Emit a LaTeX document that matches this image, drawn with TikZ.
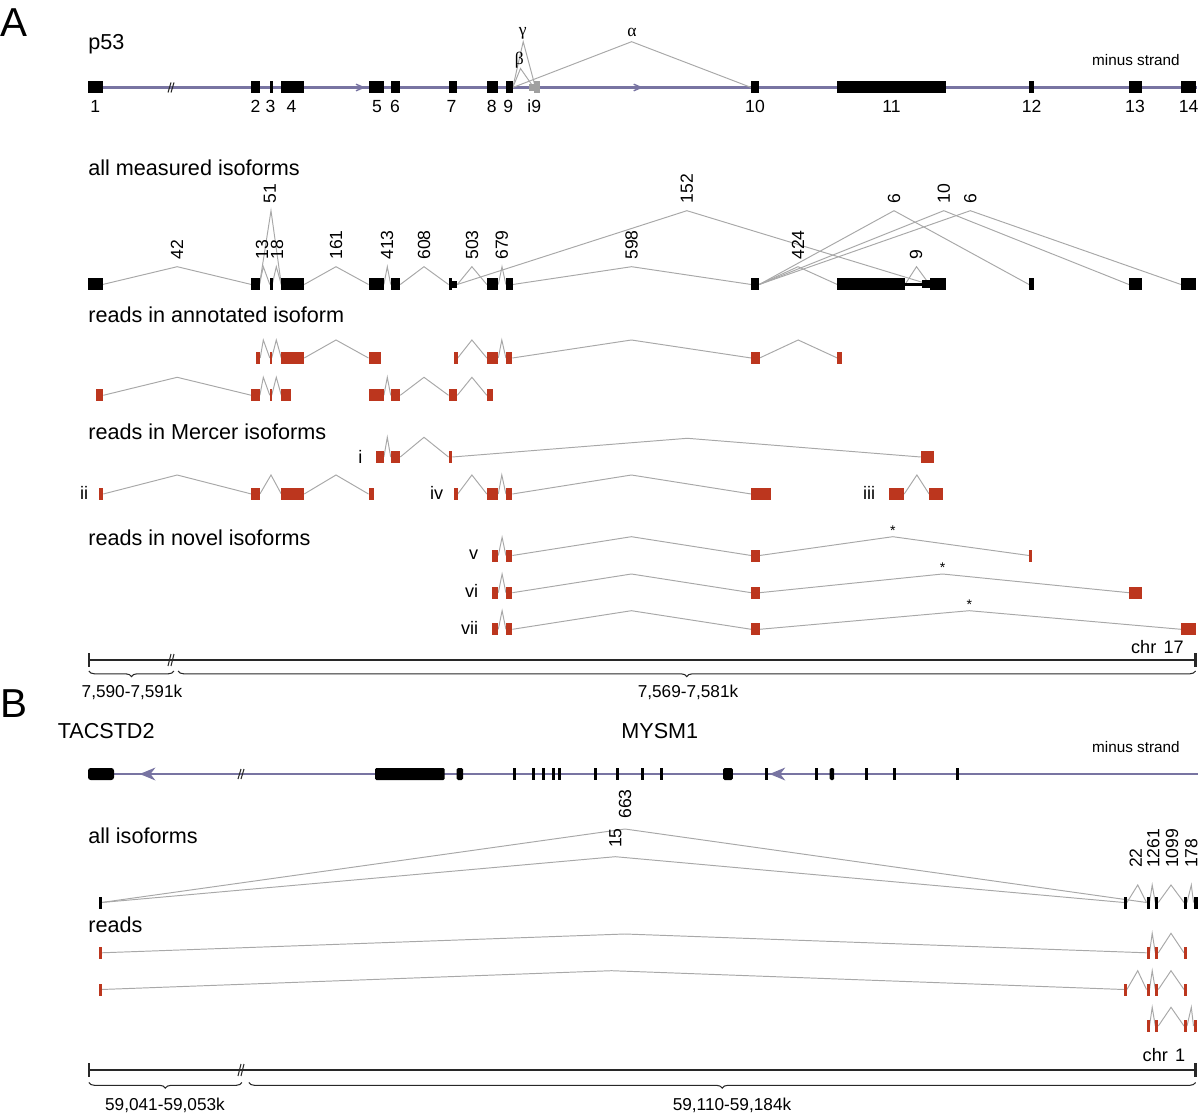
\documentclass[tikz,border=0pt]{standalone}
\usepackage{fontspec}
\setmainfont{Liberation Sans}
\newfontfamily\grk{Liberation Serif}
\usetikzlibrary{decorations.pathreplacing}
\definecolor{rdc}{RGB}{188,54,30}
\definecolor{trkc}{RGB}{120,116,162}
\definecolor{jgray}{RGB}{168,168,168}
\definecolor{i9c}{RGB}{160,160,160}
\definecolor{barc}{RGB}{40,40,40}
\newcommand{\exonbox}[4]{\fill[#1] (#2,{#4-6}) rectangle (#3,{#4+6});}
\newcommand{\exonbar}[3]{\fill[#1] ({#2-1.5},{#3-6}) rectangle ({#2+1.5},{#3+6});}
\newcommand{\junc}[5]{\draw[jl] (#1,#2) -- (#3,#4) -- (#5,#2);}
\newcommand{\dslash}[3]{\draw[brk] ({#1-3},{#2+#3}) -- ({#1},{#2-#3}) ({#1},{#2+#3}) -- ({#1+3},{#2-#3});}
\tikzset{
  jl/.style={draw=jgray, line width=0.55pt, line join=miter},
  trk/.style={draw=trkc, line width=1.3pt},
  brk/.style={draw=barc, line width=0.6pt},
  sbar/.style={draw=barc, line width=1.3pt},
  brc/.style={draw=barc, line width=0.6pt, decorate, decoration={brace, mirror, amplitude=3.2pt}},
  lab/.style={font=\fontsize{12.3}{14}\selectfont, anchor=base west, inner sep=0},
  num/.style={font=\fontsize{10}{12}\selectfont, anchor=base, inner sep=0},
  rl/.style={font=\fontsize{10}{12}\selectfont, rotate=90, anchor=west, inner sep=0},
  smalle/.style={font=\fontsize{8.7}{10}\selectfont, anchor=base east, inner sep=0},
  rom/.style={font=\fontsize{10.3}{12}\selectfont, anchor=base east, inner sep=0},
  grl/.style={font=\grk\fontsize{10}{12}\selectfont, anchor=base, inner sep=0},
  starlab/.style={font=\fontsize{8}{9}\selectfont, anchor=center, inner sep=0},
  panel/.style={font=\fontsize{23}{26}\selectfont, anchor=base west, inner sep=0},
  brlab/.style={font=\fontsize{9.8}{11}\selectfont, anchor=base, inner sep=0}
}
\begin{document}
\begin{tikzpicture}[x=0.02cm,y=-0.02cm]
\useasboundingbox (0,0) rectangle (1200,1114);

% ================= Panel A =================
\node[panel] (pA) at (0.5,37) {A};
\node[lab] (tp53) at (88,49.3) {p53};
\node[smalle] (msA) at (1180,66) {minus strand};

% track
\draw[trk] (88,87.5) -- (1197,87.5);
\draw[draw=trkc, line width=0.8pt] (356,84.2) -- (363.6,87.5) -- (356,90.8);
\draw[draw=trkc, line width=0.8pt] (633.7,84.2) -- (641.3,87.5) -- (633.7,90.8);
\dslash{171}{87.5}{5}

% splice variants alpha beta gamma
\draw[jl] (512.8,87.5) -- (520.5,68.5) -- (532,85);
\draw[jl] (512.8,87.5) -- (523.2,41.7) -- (534.5,84);
\draw[jl] (512.8,87.5) -- (631.6,41.7) -- (751.2,87.5);
\node[grl] (gb) at (519.3,64.5) {β};
\node[grl] (gg) at (522.7,35.5) {γ};
\node[grl] (ga) at (632,36.5) {α};

% exons
\foreach \a/\b in {88/102.6, 251.4/259.5, 281.3/304.2, 368.5/383.9, 390.7/400.3, 448.5/457.3, 486.8/498.3, 505.9/512.8, 751.2/759.2, 837.3/946.3, 1029/1034, 1128.9/1141.9, 1181/1196.3}
  {\exonbox{black}{\a}{\b}{87.5}}
\exonbar{black}{271}{87.5}
\fill[i9c] (529.3,84) rectangle (534,91);
\fill[i9c] (534,81.5) rectangle (539.6,93.5);

\foreach \x/\t in {95.3/1, 255.6/2, 270.5/3, 291.6/4, 376.9/5, 395/6, 451.6/7, 491.8/8, 508.2/9, 534.2/i9, 755/10, 891.6/11, 1031.7/12, 1135/13, 1188.6/14}
  {\node[num] (e\t) at (\x,112.7) {\t};}

% ---------- all measured isoforms ----------
\node[lab] (tall) at (88,176) {all measured isoforms};
\def\ya{284.5}
\foreach \a/\b/\c/\d in {102.6/177.2/266.7/251.4, 259.5/263.3/266.7/269.8, 272.2/276.3/266.7/281.3, 259.5/271/210.7/281.3, 304.2/336/266.7/368.5, 383.9/387.3/266.7/390.7, 400.3/424/266.7/448.5, 457.3/471.9/266.7/486.8, 498.3/502/266.7/505.9, 457.3/686.9/210.7/929.5, 512.8/631.6/266.7/751.2, 759.2/798/266.7/837.3, 905/916.5/266.7/929.5, 759.2/894/210.7/1029, 759.2/943.8/210.7/1128.9, 759.2/970.3/210.7/1181}
  {\junc{\a}{\ya}{\b}{\c}{\d}}
\foreach \a/\b in {88/102.6, 251.4/259.5, 281.3/304.2, 368.5/383.9, 390.7/400.3, 486.8/498.3, 505.9/512.8, 751.2/759.2, 837.3/905, 929.5/946.3, 1029/1034, 1128.9/1141.9, 1181/1196.3}
  {\exonbox{black}{\a}{\b}{\ya}}
\exonbar{black}{271}{\ya}
\fill[black] (448.5,278.5) rectangle (451.7,290.5);
\fill[black] (451.7,281) rectangle (457.3,288);
\fill[black] (905,283) rectangle (921.5,286);
\fill[black] (921.5,280.5) rectangle (929.5,288.5);

\foreach \x/\y/\t in {177/260/42, 262/260/13, 277/260/18, 270/203.5/51, 336/260/161, 387/260/413, 424/260/608, 472/260/503, 501.7/260/679, 686.9/203.5/152, 631.6/260/598, 798/260/424, 916/260/9, 894/203.5/6, 943.8/203.5/10, 970.3/203.5/6}
  {\node[rl] at (\x,\y) {\t};}

% ---------- reads in annotated isoform ----------
\node[lab] (tann) at (88,322.7) {reads in annotated isoform};
\def\yb{358}
\foreach \a/\b/\c in {260.2/263.3/269.8, 271.7/276.3/281.3, 304.2/336/368.5, 457.7/471.9/486.8, 498.3/501.8/505.9, 512.4/631.4/751.2, 759.6/798.2/837.3}
  {\junc{\a}{\yb}{\b}{340}{\c}}
\foreach \a/\b in {256/260.2, 269.8/271.7, 281.3/304.2, 368.5/381.2, 453.5/457.7, 486.8/498.3, 505.9/512.4, 751.2/759.6, 837.3/841.9}
  {\exonbox{rdc}{\a}{\b}{\yb}}
\def\yc{395.3}
\foreach \a/\b/\c in {103.3/177.2/251.4, 259.9/263.3/269.8, 271.7/276.3/281.3, 383.9/387.3/390.7, 400.3/424/448.5, 457.3/471.9/486.8}
  {\junc{\a}{\yc}{\b}{377.3}{\c}}
\foreach \a/\b in {96/103.3, 251.4/259.9, 269.8/271.7, 281.3/290.9, 368.5/383.9, 390.7/400.3, 448.5/457.3, 486.8/492.5}
  {\exonbox{rdc}{\a}{\b}{\yc}}

% ---------- reads in Mercer isoforms ----------
\node[lab] (tmer) at (88,440) {reads in Mercer isoforms};
\def\yd{457}
\junc{383.9}{\yd}{387.3}{437.3}{390.7}
\junc{400.3}{\yd}{424}{437.3}{448.5}
\junc{452.3}{\yd}{687.3}{438.3}{920.7}
\foreach \a/\b in {375.8/383.9, 390.7/400.3, 448.5/452.3, 920.7/934.1}
  {\exonbox{rdc}{\a}{\b}{\yd}}
\node[rom] (ri) at (362.8,463.3) {i};
\def\ye{494}
\foreach \a/\b/\c in {103.3/177.2/251.4, 259.9/271/281.3, 304.2/336/368.5, 457.7/471.9/486.8, 498.3/501.8/505.9, 512.4/631.4/751.2, 904.2/916.9/929.1}
  {\junc{\a}{\ye}{\b}{475}{\c}}
\foreach \a/\b in {98.7/103.3, 251.4/259.9, 281.3/304.2, 368.5/373.5, 453.5/457.7, 486.8/498.3, 505.9/512.4, 751.2/771.1, 888.9/904.2, 929.1/942.5}
  {\exonbox{rdc}{\a}{\b}{\ye}}
\node[rom] (rii) at (88.5,500) {ii};
\node[rom] (riv) at (443.5,500) {iv};
\node[rom] (riii) at (875.5,500) {iii};

% ---------- reads in novel isoforms ----------
\node[lab] (tnov) at (88,545) {reads in novel isoforms};
% v
\def\yf{555.5}
\junc{498.3}{\yf}{502.1}{537.3}{505.9}
\junc{512.4}{\yf}{631.4}{536.7}{751.2}
\junc{759.6}{\yf}{892.8}{536.7}{1029}
\foreach \a/\b in {491.8/498.3, 505.9/512.4, 751.2/759.6, 1029/1031.7}
  {\exonbox{rdc}{\a}{\b}{\yf}}
\node[starlab] (s1) at (892.8,530.8) {*};
\node[rom] (rv) at (478.5,560) {v};
% vi
\def\yg{592.7}
\junc{498.3}{\yg}{502.1}{574}{505.9}
\junc{512.4}{\yg}{631.4}{574}{751.2}
\junc{759.6}{\yg}{942.5}{574}{1128.9}
\foreach \a/\b in {491.8/498.3, 505.9/512.4, 751.2/759.6, 1128.9/1141.5}
  {\exonbox{rdc}{\a}{\b}{\yg}}
\node[starlab] (s2) at (942.5,567.7) {*};
\node[rom] (rvi) at (478.5,597.3) {vi};
% vii
\def\yh{629.3}
\junc{498.3}{\yh}{502.1}{610.7}{505.9}
\junc{512.4}{\yh}{631.4}{610.7}{751.2}
\junc{759.6}{\yh}{969.3}{610.7}{1181}
\foreach \a/\b in {491.8/498.3, 505.9/512.4, 751.2/759.6, 1181/1196.3}
  {\exonbox{rdc}{\a}{\b}{\yh}}
\node[starlab] (s3) at (969.3,604.3) {*};
\node[rom] (rvii) at (478.5,634.3) {vii};

% scale bar A
\node[rom] (chrA) at (1184,653.3) {chr\hspace{0.4em}17};
\draw[sbar] (88.8,660) -- (1195.5,660);
\draw[sbar] (88.8,653.3) -- (88.8,666.7);
\draw[sbar] (1195.5,653.3) -- (1195.5,666.7);
\dslash{171}{660}{6}
\draw[brc] (88.8,671) -- (174,671);
\draw[brc] (178,671) -- (1195.5,671);
\node[brlab] (cA1) at (132,697.7) {7,590-7,591k};
\node[brlab] (cA2) at (688,697.7) {7,569-7,581k};

% ================= Panel B =================
\node[panel] (pB) at (0.5,717) {B};
\node[lab] (tTAC) at (57.4,738.3) {TACSTD2};
\node[lab] (tMY) at (621,738.3) {MYSM1};
\node[smalle] (msB) at (1180,752.3) {minus strand};

\draw[trk] (100,774) -- (1198,774);
\fill[black, rounded corners=1.5pt] (88,768) rectangle (114,780);
\foreach \a/\b in {375/444.7, 456.6/463, 723.2/732.8, 829.6/834.2}
  {\fill[black, rounded corners=0.8pt] (\a,768) rectangle (\b,780);}
\foreach \x in {514, 533, 543.4, 553.8, 559, 595.5, 617.2, 642.1, 661.2, 766.5, 816.2, 866, 894.7, 957}
  {\exonbar{black}{\x}{774}}
\fill[trkc] (139.7,774) -- (155.5,767.5) -- (150.5,774) -- (155.5,780.5) -- cycle;
\fill[trkc] (769.5,774) -- (785.3,767.5) -- (780.3,774) -- (785.3,780.5) -- cycle;
\dslash{241}{774}{5}

% all isoforms
\node[lab] (tallB) at (88,843.3) {all isoforms};
\def\yi{902.5}
\junc{101.5}{\yi}{625}{829}{1146.5}
\junc{101.5}{\yi}{615.3}{856.7}{1124}
\junc{1126.9}{\yi}{1137.7}{885}{1146.5}
\junc{1149.5}{\yi}{1152.2}{885}{1155.3}
\junc{1158.3}{\yi}{1171}{885}{1184}
\junc{1187}{\yi}{1191.3}{885}{1193.5}
\foreach \x in {100.3, 1125.4, 1148, 1156.8, 1185.5}
  {\exonbar{black}{\x}{\yi}}
\fill[black] (1193.5,896.5) rectangle (1197.5,908.5);
\foreach \x/\y/\t in {625/819/663, 615.3/848.3/15, 1135.8/868.3/22, 1153.4/868.3/1261, 1172/868.3/1099, 1191.3/868.3/178}
  {\node[rl] at (\x,\y) {\t};}

% reads B
\node[lab] (treads) at (88,932.3) {reads};
\def\yj{952.8}
\junc{101.5}{\yj}{624.9}{934}{1146.5}
\junc{1149.5}{\yj}{1152.2}{933.3}{1155.3}
\junc{1158.3}{\yj}{1171}{933.3}{1184}
\foreach \x in {100.3, 1148, 1156.8, 1185.5}
  {\exonbar{rdc}{\x}{\yj}}
\def\yk{989.5}
\junc{101.5}{\yk}{611.5}{970.7}{1124}
\junc{1126.9}{\yk}{1137.7}{970.7}{1146.5}
\junc{1149.5}{\yk}{1152.2}{970.7}{1155.3}
\junc{1158.3}{\yk}{1171}{970.7}{1184}
\foreach \x in {100.3, 1125.4, 1148, 1156.8, 1185.5}
  {\exonbar{rdc}{\x}{\yk}}
\def\yl{1026}
\junc{1149.5}{\yl}{1152.2}{1007.3}{1155.3}
\junc{1158.3}{\yl}{1171}{1007.3}{1184}
\junc{1187}{\yl}{1191.3}{1007.3}{1193.5}
\foreach \x in {1148, 1156.8, 1185.5, 1195}
  {\exonbar{rdc}{\x}{\yl}}

% scale bar B
\node[rom] (chrB) at (1185.5,1061.7) {chr\hspace{0.4em}1};
\draw[sbar] (88.8,1070) -- (1195.5,1070);
\draw[sbar] (88.8,1063.3) -- (88.8,1076.7);
\draw[sbar] (1195.5,1063.3) -- (1195.5,1076.7);
\dslash{241}{1070}{6}
\draw[brc] (88.8,1082.5) -- (241.9,1082.5);
\draw[brc] (248.8,1082.5) -- (1195.5,1082.5);
\node[brlab] (cB1) at (165,1110) {59,041-59,053k};
\node[brlab] (cB2) at (732,1110) {59,110-59,184k};
\end{tikzpicture}
\end{document}
